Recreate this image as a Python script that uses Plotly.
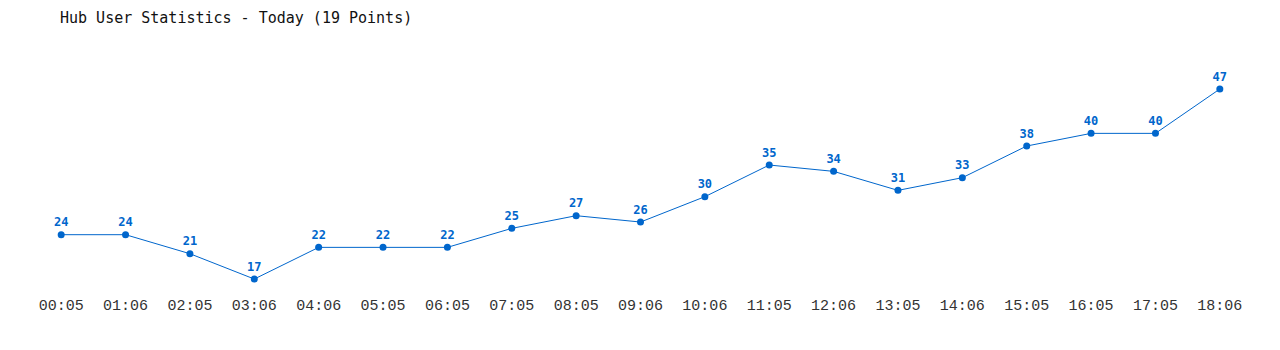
import plotly.graph_objects as go

times = ["00:05", "01:06", "02:05", "03:06", "04:06", "05:05", "06:05", "07:05", "08:05",
         "09:06", "10:06", "11:05", "12:06", "13:05", "14:06", "15:05", "16:05", "17:05", "18:06"]
users = [24, 24, 21, 17, 22, 22, 22, 25, 27, 26, 30, 35, 34, 31, 33, 38, 40, 40, 47]

idx = list(range(len(times)))
blue = "#0066cc"

fig = go.Figure()
fig.add_trace(go.Scatter(
    x=idx, y=users, mode="lines+markers+text",
    line=dict(color=blue, width=1),
    marker=dict(color=blue, size=7),
    text=[str(v) for v in users], textposition="top center",
    textfont=dict(family="DejaVu Sans Mono", size=12, color=blue, weight="bold"),
    hoverinfo="skip", cliponaxis=False,
))

fig.update_layout(
    width=1280, height=350,
    margin=dict(l=29, r=28, t=40, b=60),
    paper_bgcolor="white", plot_bgcolor="white",
    showlegend=False,
    title=dict(text="Hub User Statistics - Today (19 Points)", x=60/1280, xanchor="left",
               y=1 - 18/350, yanchor="middle", yref="container",
               font=dict(family="DejaVu Sans Mono", size=15, color="#111")),
    xaxis=dict(range=[-0.5, 18.5], tickvals=idx, ticktext=times, showgrid=False,
               zeroline=False, showline=False, ticks="", ticklabelstandoff=4,
               tickfont=dict(family="Liberation Mono", size=15, color="#333")),
    yaxis=dict(range=[15.27, 54.74], visible=False),
)

fig.write_html("out.html")
